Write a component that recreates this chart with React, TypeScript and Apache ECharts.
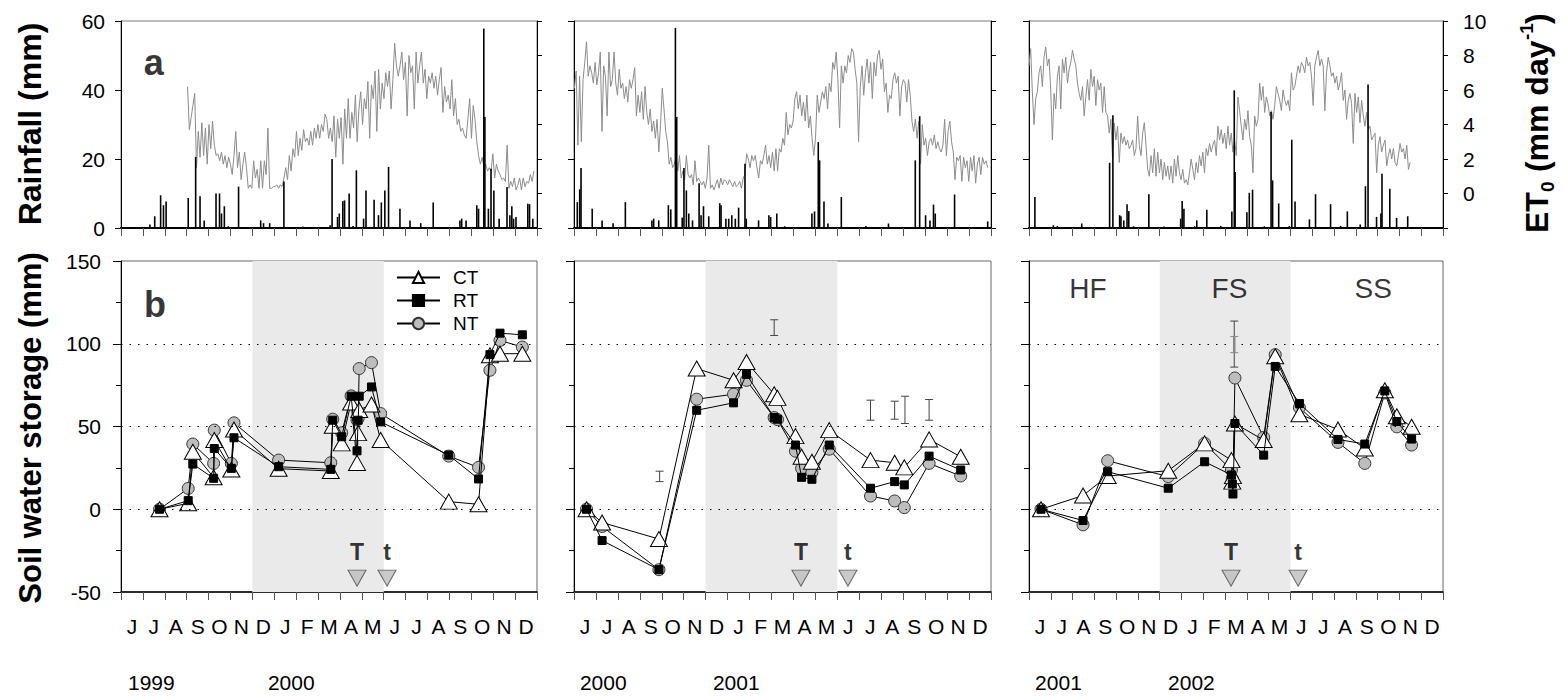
import React, { useEffect, useRef } from 'react';
import * as echarts from 'echarts';

const FONT = '"Liberation Sans", Arial, Helvetica, sans-serif';

// ---------- labels ----------
const monthLabels = ['J', 'J', 'A', 'S', 'O', 'N', 'D', 'J', 'F', 'M', 'A', 'M', 'J', 'J', 'A', 'S', 'O', 'N', 'D'];
const yearLabels = [['1999', '2000'], ['2000', '2001'], ['2001', '2002']];
const yearLabelMonth = [[0.32, 6.71], [0.27, 6.33], [0.28, 6.38]];
const seriesNames = ['CT', 'RT', 'NT'];

// ---------- ET0 (mm/day), evenly sampled between span start and end (month index) ----------
const et0P1Span = [3.04, 18.86];
const et0P1 = [
  6.2, 3.7, 4.4, 5.1, 5.8, 1.5, 3.6, 2.1, 4.1, 2.2,
  3.8, 1.7, 4.0, 2.6, 4.2, 2.8, 2.2, 2.3, 1.9, 2.4,
  1.7, 2.2, 1.5, 2.1, 1.7, 1.1, 2.2, 3.6, 1.5, 2.4,
  0.8, 1.7, 2.4, 1.5, 0.3, 0.5, 0.3, 1.9, 0.9, 1.4,
  0.3, 1.9, 0.3, 1.9, 1.1, 3.8, 0.3, 0.3, 0.4, 0.4,
  0.5, 0.3, 0.5, 0.4, 0.9, 1.5, 0.8, 2.2, 1.3, 2.6,
  2.1, 3.6, 2.2, 3.2, 2.5, 3.7, 3.0, 3.2, 2.8, 3.6,
  2.8, 3.8, 3.2, 4.0, 3.2, 4.0, 3.6, 4.6, 4.3, 3.2,
  3.8, 3.0, 4.5, 2.1, 4.3, 3.2, 4.4, 1.7, 4.9, 3.2,
  5.5, 3.2, 4.7, 3.8, 5.7, 3.0, 4.9, 5.9, 4.0, 5.5,
  4.9, 6.5, 3.2, 6.3, 5.5, 7.1, 3.6, 7.2, 4.9, 6.4,
  5.5, 7.0, 6.2, 7.1, 4.9, 6.6, 8.7, 7.4, 6.8, 7.4,
  8.2, 6.6, 7.6, 4.5, 8.0, 7.0, 7.4, 4.9, 8.2, 6.4,
  7.4, 8.2, 6.4, 7.2, 5.5, 6.8, 6.4, 7.0, 6.1, 6.8,
  5.7, 6.6, 7.3, 4.7, 6.2, 5.3, 5.7, 4.9, 6.6, 4.5,
  5.5, 4.0, 4.3, 3.6, 3.8, 3.4, 3.2, 4.3, 5.5, 3.2,
  5.1, 4.3, 3.0, 2.2, 1.7, 2.1, 1.5, 1.7, 1.3, 1.5,
  1.3, 2.3, 0.9, 1.7, 1.3, 1.1, 0.8, 0.9, 0.7, 2.8,
  0.3, 0.7, 0.4, 0.9, 0.2, 0.5, 0.9, 0.2, 0.9, 0.4,
  0.7, 0.6, 1.1, 0.7, 1.3,
];
const et0P2Span = [0.02, 18.85];
const et0P2 = [
  6.1, 7.1, 2.8, 6.8, 3.0, 6.6, 7.6, 8.8, 6.8, 7.4,
  7.0, 6.4, 7.6, 6.3, 7.0, 8.2, 3.6, 7.4, 6.8, 4.5,
  8.2, 6.2, 6.6, 8.2, 6.4, 5.7, 7.2, 6.1, 6.4, 5.5,
  6.2, 5.3, 6.6, 6.1, 6.6, 7.3, 4.5, 5.7, 4.7, 5.9,
  4.3, 6.2, 4.7, 4.0, 4.9, 3.6, 4.2, 3.2, 4.3, 2.4,
  4.0, 6.1, 4.9, 3.6, 3.0, 1.7, 2.1, 1.5, 1.7, 2.1,
  1.3, 2.2, 0.9, 1.3, 0.8, 2.2, 1.1, 0.9, 1.1, 0.5,
  1.9, 0.7, 0.9, 0.7, 0.5, 0.7, 0.3, 0.9, 2.8, 0.3,
  0.5, 0.2, 0.5, 0.8, 0.3, 0.9, 0.5, 0.8, 0.7, 0.5,
  0.8, 0.6, 0.4, 0.7, 0.4, 0.5, 0.7, 0.3, 0.9, 1.1,
  2.3, 2.0, 1.5, 2.2, 1.9, 2.2, 1.5, 0.9, 1.9, 1.7,
  2.2, 2.8, 1.7, 2.2, 1.5, 2.4, 1.3, 2.6, 1.3, 2.6,
  2.4, 3.2, 2.8, 4.7, 3.4, 4.0, 3.8, 4.2, 5.5, 5.9,
  4.9, 5.7, 4.5, 5.3, 4.2, 5.7, 3.8, 4.5, 3.2, 2.2,
  3.2, 5.7, 4.7, 5.3, 5.9, 5.5, 6.2, 4.9, 6.4, 5.9,
  7.6, 7.2, 8.2, 6.6, 3.8, 7.4, 6.4, 7.4, 7.0, 8.0,
  7.6, 8.4, 8.2, 7.2, 6.4, 3.0, 6.2, 7.4, 5.7, 7.0,
  7.8, 6.4, 7.6, 5.5, 7.6, 6.8, 8.0, 8.3, 7.2, 7.8,
  5.9, 6.4, 4.7, 5.7, 5.5, 6.6, 7.0, 6.4, 6.8, 4.5,
  6.2, 6.6, 6.4, 5.3, 6.6, 5.7, 4.2, 3.6, 4.3, 3.2,
  4.2, 1.7, 4.0, 2.8, 3.2, 2.2, 3.0, 3.2, 2.8, 3.4,
  2.6, 3.0, 2.6, 2.4, 2.8, 4.3, 2.2, 3.6, 4.2, 3.0,
  2.4, 0.8, 2.1, 1.9, 2.2, 0.7, 2.1, 1.5, 1.9, 0.7,
  2.1, 1.3, 2.2, 0.6, 1.7, 2.1, 1.1, 2.1, 1.7, 1.9,
  1.5,
];
const et0P3Span = [0.0, 17.49];
const et0P3 = [
  7.4, 8.4, 5.9, 4.0, 5.5, 5.9, 7.0,
  7.4, 6.2, 7.9, 8.5, 7.4, 7.8, 6.0, 3.1, 5.8, 4.9,
  6.8, 7.4, 4.9, 7.8, 7.0, 7.9, 6.4, 7.2, 7.6, 8.3,
  7.8, 7.4, 6.4, 5.8, 5.4, 6.2, 4.5, 5.6, 6.6, 5.4,
  7.2, 6.2, 6.8, 5.1, 6.6, 6.0, 6.4, 4.7, 6.2, 4.7,
  4.5, 3.5, 4.3, 2.0, 4.1, 3.1, 3.9, 1.8, 3.5, 2.9,
  3.3, 2.8, 3.1, 2.6, 2.8, 3.1, 2.2, 2.6, 4.5, 2.8,
  2.2, 3.5, 4.1, 2.8, 1.4, 1.0, 2.2, 1.2, 2.6, 1.0,
  2.4, 1.2, 2.0, 0.8, 1.8, 1.0, 1.6, 0.8, 1.6, 0.6,
  2.0, 1.0, 2.2, 1.2, 0.8, 1.4, 0.6, 0.8, 0.5, 1.2,
  2.0, 1.4, 0.8, 1.8, 1.2, 2.2, 1.6, 2.4, 1.2, 2.6,
  2.2, 2.9, 2.4, 2.8, 3.1, 2.2, 3.9, 3.1, 3.7, 2.9,
  3.5, 2.6, 3.9, 2.8, 3.5, 2.4, 3.1, 2.2, 5.6, 4.8,
  3.9, 3.1, 4.3, 3.7, 4.8, 3.3, 2.8, 1.2, 4.5, 3.9,
  4.3, 6.4, 5.4, 6.2, 4.7, 5.6, 5.2, 4.5, 4.8, 4.3,
  5.1, 6.2, 5.8, 5.4, 4.8, 6.0, 5.4, 5.1, 5.4, 4.8,
  7.0, 6.0, 6.2, 6.8, 7.4, 7.0, 7.6, 7.4, 7.0, 7.9,
  7.4, 7.6, 6.8, 5.1, 7.4, 7.9, 8.3, 7.4, 7.8, 7.4,
  4.8, 7.0, 7.9, 7.4, 6.8, 7.0, 6.4, 6.8, 6.0, 6.4,
  7.0, 5.4, 6.0, 4.3, 5.4, 5.8, 5.2, 2.9, 5.8, 4.7,
  5.6, 4.1, 5.4, 4.5, 3.9, 4.7, 3.7, 3.9, 3.1, 3.3,
  3.5, 1.2, 2.8, 3.3, 2.4, 2.8, 3.1, 1.6, 2.2, 2.6,
  2.0, 2.6, 1.8, 1.6, 2.2, 2.9, 2.4, 2.6, 2.0, 2.8,
  1.4, 1.8,
];

// ---------- daily rainfall events [month index, mm] ----------
const rainP1 = [
  [1.08, 0.3], [1.32, 1], [1.54, 3.4], [1.81, 9.5], [1.94, 6.6], [2.06, 7.7], [3.07, 8.7], [3.41, 20.6],
  [3.61, 9.2], [3.8, 2.2], [4.34, 10], [4.5, 10], [4.59, 4.2], [4.72, 6.3], [4.9, 0.5], [5.37, 12],
  [6.38, 2.2], [6.51, 1.4], [6.79, 1.4], [7.44, 13.5], [8.3, 0.4], [9.55, 0.8], [9.64, 20], [9.89, 3.2],
  [9.97, 4.2], [10.13, 7.8], [10.21, 8], [10.42, 10], [10.6, 0.6], [10.75, 16.7], [11.08, 2.7], [11.19, 10.9],
  [11.56, 8.2], [11.76, 3.7], [11.89, 7.4], [12.05, 10.9], [12.22, 17.7], [12.74, 5.6], [13.2, 2.2], [13.69, 1.4],
  [14.26, 7.4], [15.48, 2.2], [15.56, 2.7], [15.76, 2.2], [16.25, 6.6], [16.33, 5.6], [16.57, 57.8], [16.62, 32.2],
  [16.78, 5.6], [16.9, 17.2], [17.03, 10.9], [17.27, 2.7], [17.63, 11.9], [17.76, 3.7], [17.85, 6.3], [17.93, 2.7],
  [18.04, 3.2], [18.58, 7], [18.66, 6.9], [18.81, 2.7],
];
const rainP2 = [
  [0.15, 7.5], [0.26, 11.2], [0.32, 17.4], [0.83, 5.6], [1.28, 2.2], [1.78, 1.4], [2.34, 7.5], [3.55, 2.2],
  [3.63, 2.7], [3.86, 2.2], [4.3, 6.6], [4.41, 5.4], [4.62, 58], [4.68, 32.2], [4.93, 3], [5.01, 17.4],
  [5.12, 10.9], [5.23, 4.2], [5.4, 2.2], [5.7, 13], [5.79, 3.7], [5.9, 6.3], [6.14, 3.4], [6.64, 7.2],
  [6.7, 6.6], [6.92, 2.7], [7.05, 2.7], [7.19, 3.7], [7.35, 2.7], [7.5, 5.9], [7.79, 18.6], [7.85, 2.7],
  [8.41, 2.2], [8.88, 3.7], [8.96, 3.2], [9.24, 4.2], [9.6, 0.5], [10.84, 4.2], [10.96, 4.8], [11.13, 24.9],
  [11.19, 19.6], [11.39, 7.7], [11.57, 1.3], [12.18, 9], [13.3, 0.6], [14.33, 1.3], [15.55, 19.6], [15.75, 32.4],
  [16.02, 3.7], [16.22, 2.2], [16.38, 6.8], [16.46, 4.2], [17.34, 9.7], [18.85, 1.9],
];
const rainP3 = [
  [0.27, 9], [1.12, 0.8], [1.3, 0.6], [2.42, 1.3], [3.7, 18.9], [3.85, 32.7], [4.16, 3.7], [4.22, 3.4],
  [4.35, 2.2], [4.5, 6.9], [4.58, 4.9], [4.8, 0.5], [5.5, 9.8], [6.2, 0.4], [6.96, 2.7], [7.03, 7.8],
  [7.11, 5.6], [7.6, 0.5], [7.7, 2.2], [8.16, 5.3], [8.8, 0.6], [9.31, 4.8], [9.42, 39.9], [9.46, 16.2],
  [10.0, 4.6], [10.11, 10.2], [10.26, 11.1], [10.8, 0.5], [11.11, 33.6], [11.18, 13.8], [11.46, 7.1], [11.95, 0.6],
  [12.06, 25.6], [12.21, 7.7], [12.87, 2.5], [13.15, 9.8], [13.84, 6.9], [14.3, 0.6], [14.61, 4.8], [15.2, 1],
  [15.44, 12.1], [15.56, 41.6], [15.95, 3.2], [16.15, 4.2], [16.2, 15.7], [16.56, 11.4], [16.87, 2.9], [17.38, 3.4],
];

// ---------- soil water storage (mm) ----------
const swsDatesP1 = [1.76, 3.07, 3.28, 4.23, 4.26, 5.04, 5.16, 7.2, 9.58, 9.67, 10.08, 10.51, 10.78, 10.83, 10.88, 11.44, 11.86, 14.97, 16.33, 16.85, 17.31, 18.33];
const ctP1 = [0, 3.6, 34.7, 19.3, 41.8, 24, 48.2, 24.5, 23.1, 50.4, 39.8, 64.5, 28, 46, 60, 63.3, 41.8, 4.6, 3, 93, 94, 94];
const rtP1 = [0, 5.2, 27.3, 18.7, 36.7, 24.7, 43.2, 25.7, 24.1, 53.8, 43.8, 68.3, 35.3, 53.8, 68.3, 73.9, 52.8, 32.7, 18.3, 93.4, 106.4, 105.4];
const ntP1 = [0, 12.6, 39.4, 27.7, 47.8, 27.7, 52.2, 29.7, 28.1, 54.4, 46.2, 68.5, 54, 55, 85, 88.6, 57.8, 32.1, 25.3, 84, 102, 98];

const swsDatesP2 = [0.57, 1.28, 3.87, 5.59, 7.27, 7.86, 9.12, 9.27, 10.09, 10.37, 10.84, 11.63, 13.51, 14.61, 15.05, 16.18, 17.62];
const ctP2 = [0, -8, -18, 85, 77.9, 89, 69.5, 67.3, 44.2, 31.7, 28.7, 47.8, 29.7, 28.1, 25.3, 42.2, 31.7];
const rtP2 = [0, -18.9, -36.5, 59.8, 64.3, 81.5, 55.4, 54.4, 38.8, 19.3, 18.1, 38.8, 12.7, 16.7, 14.7, 32.1, 23.7];
const ntP2 = [0, -10.4, -36.5, 66.5, 69.5, 77.9, 55.4, 54.2, 35.1, 24.7, 22.3, 36.3, 8, 5, 1, 27.7, 20.1];

const swsDatesP3 = [0.55, 2.48, 3.61, 6.39, 8.06, 9.29, 9.33, 9.36, 9.45, 10.77, 11.3, 12.41, 14.18, 15.41, 16.33, 16.88, 17.56];
const ctP3 = [0, 8.3, 20.1, 23.3, 39.8, 29.7, 16.7, 20, 51.8, 41.8, 92.4, 57.4, 48.2, 36.7, 71.9, 56.2, 49.8];
const rtP3 = [0, -6.8, 22.7, 12.7, 28.7, 20.7, 15.3, 9.2, 51.8, 32.7, 86.3, 63.9, 42.2, 39.4, 71.5, 53, 42.4];
const ntP3 = [0, -9.4, 29.3, 19.7, 39.8, 23.7, 18.5, 17, 79.3, 43.4, 93.4, 61.4, 40.4, 27.7, 70.3, 49.8, 38.8];

// error bars [month, low, high]
const errP1: number[][] = [];
const errP2 = [[3.9, 16.7, 23], [9.12, 105, 114.5], [13.51, 53.8, 65.9], [14.61, 54.4, 65.3], [15.08, 51.8, 68.3], [16.18, 53.8, 66.3]];
const errP3 = [[9.42, 85.9, 113.7]];
const errP3Inner = [[9.42, 94.6, 104.4]];

// tillage markers (T, t)
const tillageX = [[10.78, 12.15], [10.34, 12.48], [9.27, 12.35]];
const tillageLabels = ['T', 't'];
const tillageLevel = -41.6;

// annotations
const shadeMonths = [6, 12];
const refLevels = [0, 50, 100];
const phaseNames = ['HF', 'FS', 'SS'];
const phaseX = [2.7, 9.2, 15.8];
const phaseY = 133.5;

// ---------- layout ----------
const PANEL_LEFT = [121, 574, 1029];
const PANEL_WIDTH = [416, 417, 414];
const TOP_Y = 21;
const TOP_H = 207;
const BOT_Y = 261;
const BOT_H = 331;

const et0Points = (vals: number[], span: number[]) =>
  vals.map((v, i) => [span[0] + ((span[1] - span[0]) * i) / (vals.length - 1), v]);

function errorBar(color: string, width: number, cap: number) {
  return (params: any, api: any) => {
    const x = api.value(0);
    const lo = api.coord([x, api.value(1)]);
    const hi = api.coord([x, api.value(2)]);
    return {
      type: 'group',
      children: [
        { type: 'line', shape: { x1: lo[0], y1: lo[1], x2: hi[0], y2: hi[1] }, style: { stroke: color, lineWidth: width } },
        { type: 'line', shape: { x1: lo[0] - cap, y1: lo[1], x2: lo[0] + cap, y2: lo[1] }, style: { stroke: color, lineWidth: 1 } },
        { type: 'line', shape: { x1: hi[0] - cap, y1: hi[1], x2: hi[0] + cap, y2: hi[1] }, style: { stroke: color, lineWidth: 1 } },
      ],
    };
  };
}

function buildOption() {
  const grids: any[] = [];
  const xAxes: any[] = [];
  const yAxes: any[] = [];
  const series: any[] = [];
  const graphic: any[] = [];

  const et0Sets = [[et0P1, et0P1Span], [et0P2, et0P2Span], [et0P3, et0P3Span]];
  const rainSets = [rainP1, rainP2, rainP3];
  const swsSets = [
    [swsDatesP1, ctP1, rtP1, ntP1],
    [swsDatesP2, ctP2, rtP2, ntP2],
    [swsDatesP3, ctP3, rtP3, ntP3],
  ];
  const errSets = [errP1, errP2, errP3];

  const catAxis = (gridIndex: number, bottom: boolean) => ({
    type: 'category',
    gridIndex,
    data: monthLabels,
    boundaryGap: true,
    axisLine: { show: true, onZero: false, lineStyle: { color: '#000', width: bottom ? 1.5 : 2 } },
    axisTick: { show: true, interval: 0, length: 8, lineStyle: { color: '#555', width: 1 } },
    axisLabel: { show: bottom, interval: 0, fontSize: 21, color: '#000', margin: 24, fontFamily: FONT },
    splitLine: { show: false },
  });
  const valAxisX = (gridIndex: number) => ({ type: 'value', gridIndex, min: 0, max: 19, show: false });

  // top panels
  for (let p = 0; p < 3; p++) {
    grids.push({ left: PANEL_LEFT[p], top: TOP_Y, width: PANEL_WIDTH[p], height: TOP_H, show: true, borderColor: '#777', borderWidth: 1 });
    xAxes.push(catAxis(p, false));
    xAxes.push(valAxisX(p));
    yAxes.push({
      type: 'value', gridIndex: p, min: 0, max: 60, interval: 20, position: 'left',
      axisLine: { show: true, lineStyle: { color: '#000' } },
      axisTick: { show: true, length: 6, lineStyle: { color: '#000' } },
      axisLabel: { show: p === 0, fontSize: 21, color: '#000', margin: 16, fontFamily: FONT },
      splitLine: { show: false },
    });
    yAxes.push({
      type: 'value', gridIndex: p, min: -2, max: 10, interval: 2, position: 'right',
      axisLine: { show: true, lineStyle: { color: '#000' } },
      axisTick: { show: true, length: 5, lineStyle: { color: '#000' } },
      axisLabel: { show: p === 2, fontSize: 21, color: '#000', margin: 20, fontFamily: FONT, formatter: (v: number) => (v < 0 ? '' : String(v)) },
      splitLine: { show: false },
    });
  }
  // bottom panels
  for (let p = 0; p < 3; p++) {
    grids.push({ left: PANEL_LEFT[p], top: BOT_Y, width: PANEL_WIDTH[p], height: BOT_H, show: true, borderColor: '#666', borderWidth: 1 });
    xAxes.push(catAxis(3 + p, true));
    xAxes.push(valAxisX(3 + p));
    yAxes.push({
      type: 'value', gridIndex: 3 + p, min: -50, max: 150, interval: 50, position: 'left',
      axisLine: { show: true, lineStyle: { color: '#000' } },
      axisTick: { show: true, length: 8, lineStyle: { color: '#000' } },
      minorTick: { show: true, splitNumber: 2, length: 5, lineStyle: { color: '#000' } },
      axisLabel: { show: p === 0, fontSize: 21, color: '#000', margin: 20, fontFamily: FONT },
      splitLine: { show: false },
      minorSplitLine: { show: false },
    });
  }

  for (let p = 0; p < 3; p++) {
    const xv = 2 * p + 1;
    series.push({
      type: 'line', xAxisIndex: xv, yAxisIndex: 2 * p + 1,
      data: et0Points(et0Sets[p][0] as number[], et0Sets[p][1] as number[]),
      showSymbol: false, symbol: 'none', lineStyle: { color: '#8c8c8c', width: 1 }, z: 2, silent: true,
    });
    series.push({
      type: 'bar', xAxisIndex: xv, yAxisIndex: 2 * p, data: rainSets[p], barWidth: 1.6,
      itemStyle: { color: '#000' }, z: 3, silent: true,
    });
  }
  // "a" label
  series.push({
    type: 'scatter', xAxisIndex: 1, yAxisIndex: 0, data: [{ value: [1.5, 48], name: 'a' }],
    symbolSize: 1, itemStyle: { color: 'transparent' }, silent: true, z: 6,
    label: { show: true, position: 'inside', formatter: '{b}', fontSize: 36, fontWeight: 'bold', color: '#000', fontFamily: FONT },
  });

  for (let p = 0; p < 3; p++) {
    const xv = 7 + 2 * p;
    const yi = 6 + p;
    const [dates] = swsSets[p];
    series.push({
      type: 'line', xAxisIndex: xv, yAxisIndex: yi, data: [], z: 1, silent: true,
      markArea: { silent: true, itemStyle: { color: '#e9eae9' }, data: [[{ xAxis: shadeMonths[0] }, { xAxis: shadeMonths[1] }]] },
    });
    series.push({
      type: 'line', xAxisIndex: xv, yAxisIndex: yi, data: [], z: 2, silent: true,
      markLine: {
        silent: true, symbol: 'none', label: { show: false },
        lineStyle: { color: '#000', width: 1, type: [1.5, 7] },
        data: refLevels.map((v) => ({ yAxis: v })),
      },
    });
    const mk = (k: number) => (dates as number[]).map((d, i) => [d, (swsSets[p][k] as number[])[i]]);
    series.push({
      name: 'NT', type: 'line', xAxisIndex: xv, yAxisIndex: yi, data: mk(3), z: 3,
      symbol: 'circle', symbolSize: 12, showAllSymbol: true,
      itemStyle: { color: '#bdbdbd', borderColor: '#333', borderWidth: 1 },
      lineStyle: { color: '#000', width: 1 },
    });
    series.push({
      name: 'CT', type: 'line', xAxisIndex: xv, yAxisIndex: yi, data: mk(1), z: 4,
      symbol: 'triangle', symbolSize: [17, 15], showAllSymbol: true,
      itemStyle: { color: '#fff', borderColor: '#000', borderWidth: 1 },
      lineStyle: { color: '#000', width: 1 },
    });
    series.push({
      name: 'RT', type: 'line', xAxisIndex: xv, yAxisIndex: yi, data: mk(2), z: 5,
      symbol: 'rect', symbolSize: 8, showAllSymbol: true,
      itemStyle: { color: '#000', borderColor: '#000', borderWidth: 1 },
      lineStyle: { color: '#000', width: 1 },
    });
    if (errSets[p].length) {
      series.push({
        type: 'custom', xAxisIndex: xv, yAxisIndex: yi, data: errSets[p], encode: { x: 0, y: [1, 2] },
        renderItem: errorBar('#444', 1, 4), z: 6, silent: true,
      });
    }
    if (p === 2) {
      series.push({
        type: 'custom', xAxisIndex: xv, yAxisIndex: yi, data: errP3Inner, encode: { x: 0, y: [1, 2] },
        renderItem: errorBar('#888', 2.5, 4), z: 7, silent: true,
      });
      series.push({
        type: 'scatter', xAxisIndex: xv, yAxisIndex: yi,
        data: phaseNames.map((n, i) => ({ value: [phaseX[i], phaseY], name: n })),
        symbolSize: 1, itemStyle: { color: 'transparent' }, silent: true, z: 6,
        label: { show: true, position: 'inside', formatter: '{b}', fontSize: 28, color: '#000', fontFamily: FONT },
      });
    }
    if (p === 0) {
      series.push({
        type: 'scatter', xAxisIndex: xv, yAxisIndex: yi, data: [{ value: [1.55, 124], name: 'b' }],
        symbolSize: 1, itemStyle: { color: 'transparent' }, silent: true, z: 6,
        label: { show: true, position: 'inside', formatter: '{b}', fontSize: 36, fontWeight: 'bold', color: '#000', fontFamily: FONT },
      });
    }
    series.push({
      type: 'scatter', xAxisIndex: xv, yAxisIndex: yi,
      data: tillageX[p].map((x, i) => ({ value: [x, tillageLevel], name: tillageLabels[i] })),
      symbol: 'triangle', symbolRotate: 180, symbolSize: [18, 16],
      itemStyle: { color: '#bdbdbd', borderColor: '#444', borderWidth: 1 }, silent: true, z: 6,
      label: { show: true, position: 'top', distance: 6, formatter: '{b}', fontSize: 23, fontWeight: 'bold', color: '#000', fontFamily: FONT },
    });
  }

  // axis titles
  graphic.push({
    type: 'text', x: 30, y: 124, rotation: Math.PI / 2,
    style: { text: 'Rainfall (mm)', fontSize: 32, fontWeight: 'bold', fontFamily: FONT, fill: '#000', align: 'center', verticalAlign: 'middle' },
  });
  graphic.push({
    type: 'text', x: 30, y: 428, rotation: Math.PI / 2,
    style: { text: 'Soil water storage (mm)', fontSize: 31, fontWeight: 'bold', fontFamily: FONT, fill: '#000', align: 'center', verticalAlign: 'middle' },
  });
  const big = { fontSize: 32, fontWeight: 'bold', fontFamily: FONT, fill: '#000', align: 'left', verticalAlign: 'middle' };
  const small = { fontSize: 19, fontWeight: 'bold', fontFamily: FONT, fill: '#000', align: 'left', verticalAlign: 'middle' };
  graphic.push({
    type: 'group', x: 1537, y: 233, rotation: Math.PI / 2,
    children: [
      { type: 'text', x: 0, y: 0, style: { ...big, text: 'ET' } },
      { type: 'text', x: 41, y: 10, style: { ...small, text: '0' } },
      { type: 'text', x: 52, y: 0, style: { ...big, text: ' (mm day' } },
      { type: 'text', x: 193, y: -11, style: { ...small, text: '-1' } },
      { type: 'text', x: 209, y: 0, style: { ...big, text: ')' } },
    ],
  });
  for (let p = 0; p < 3; p++) {
    const mw = PANEL_WIDTH[p] / 19;
    for (let k = 0; k < 2; k++) {
      graphic.push({
        type: 'text', x: PANEL_LEFT[p] + yearLabelMonth[p][k] * mw, y: 682,
        style: { text: yearLabels[p][k], fontSize: 21, fontFamily: FONT, fill: '#000', align: 'left', verticalAlign: 'middle' },
      });
    }
  }

  return {
    animation: false,
    backgroundColor: '#fff',
    grid: grids,
    xAxis: xAxes,
    yAxis: yAxes,
    legend: {
      data: seriesNames,
      orient: 'vertical', left: 396, top: 268, itemWidth: 43, itemHeight: 14, itemGap: 4,
      selectedMode: false, padding: 0,
      textStyle: { fontSize: 19, color: '#000', fontFamily: FONT, padding: [0, 0, 0, 8] },
    },
    series,
    graphic,
  };
}

export default function App() {
  const ref = useRef<HTMLDivElement>(null);
  useEffect(() => {
    document.body.style.margin = '0';
    if (!ref.current) return;
    const chart = echarts.init(ref.current, undefined, { renderer: 'svg' });
    chart.setOption(buildOption() as any);
    return () => chart.dispose();
  }, []);
  return <div ref={ref} style={{ width: 1565, height: 698 }} />;
}
